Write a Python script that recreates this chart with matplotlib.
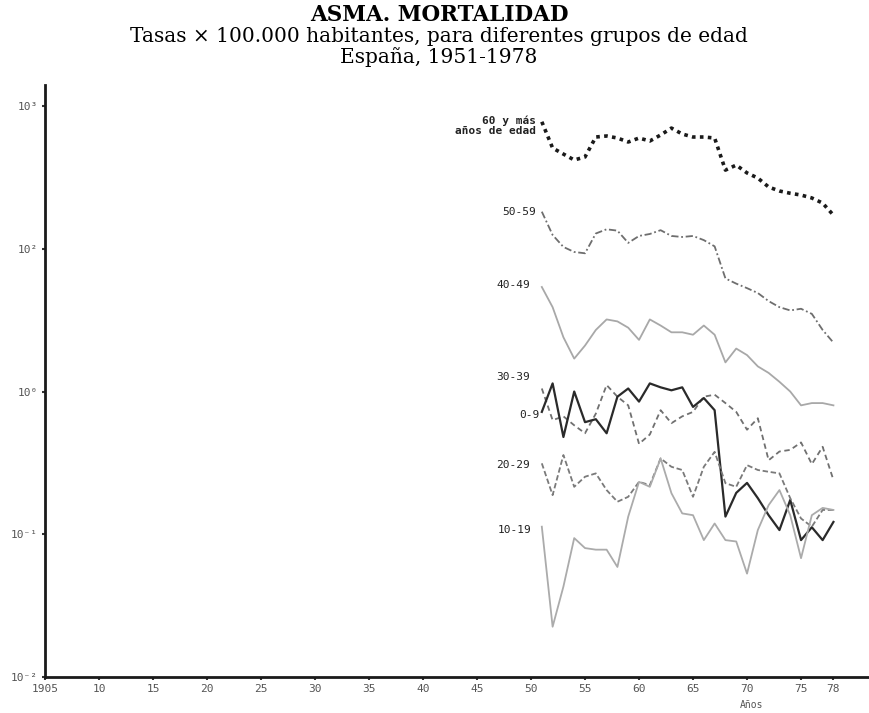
"""
Asma. Mortalidad por grupos de edad, España 1951-1978 (escala logarítmica)
"""
import matplotlib
matplotlib.use("Agg")
import matplotlib.pyplot as plt

years = list(range(1951, 1979))

# tasas x 100.000 habitantes
edad_60_mas = [776, 508, 461, 419, 440, 607, 617, 597, 560, 597, 569, 627, 701, 637,
               607, 607, 597, 356, 386, 340, 313, 271, 254, 245, 238, 227, 209, 172]
edad_50_59 = [182, 125, 103, 95, 93, 128, 137, 134, 110, 123, 127, 135, 123, 121,
              123, 115, 104, 62, 57, 53, 49, 43, 39, 37, 38, 35, 27, 22]
edad_40_49 = [54, 39, 24, 17, 21, 27, 32, 31, 28, 23, 32, 29, 26, 26,
              25, 29, 25, 16, 20, 18, 15, 13.5, 11.7, 10, 8.0, 8.3, 8.3, 8.0]
edad_30_39 = [10.5, 6.3, 6.7, 5.8, 5.1, 7.0, 11.1, 9.2, 8.0, 4.3, 5.0, 7.4, 6.0, 6.7,
              7.2, 9.2, 9.5, 8.3, 7.2, 5.4, 6.5, 3.3, 3.8, 3.9, 4.4, 3.1, 4.1, 2.4]
edad_0_9 = [7.2, 11.4, 4.8, 10.0, 6.1, 6.4, 5.1, 9.2, 10.5, 8.5, 11.4, 10.7, 10.2, 10.7,
            7.8, 9.0, 7.4, 1.33, 1.95, 2.29, 1.79, 1.36, 1.07, 1.74, 0.91, 1.12, 0.91, 1.22]
edad_20_29 = [3.14, 1.88, 3.59, 2.15, 2.53, 2.67, 2.04, 1.69, 1.83, 2.33, 2.21, 3.40, 2.97, 2.82,
              1.83, 2.97, 3.78, 2.28, 2.15, 3.05, 2.82, 2.74, 2.67, 1.79, 1.29, 1.13, 1.48, 1.48]
edad_10_19 = [1.13, 0.225, 0.43, 0.94, 0.80, 0.78, 0.78, 0.59, 1.33, 2.33, 2.15, 3.40, 1.94, 1.40,
              1.36, 0.91, 1.19, 0.91, 0.89, 0.53, 1.07, 1.60, 2.04, 1.36, 0.68, 1.36, 1.53, 1.48]

x_ticks = [1905, 1910, 1915, 1920, 1925, 1930, 1935, 1940, 1945, 1950, 1955, 1960, 1965, 1970, 1975, 1978]
x_labels = ['1905', '10', '15', '20', '25', '30', '35', '40', '45', '50', '55', '60', '65', '70', '75', '78']
y_ticks = [1e3, 1e2, 1e1, 1e0, 1e-1]
y_labels = ['10³', '10²', '10⁰', '10⁻¹', '10⁻²']

mono = ['DejaVu Sans Mono']
serif = ['DejaVu Serif']

fig = plt.figure(figsize=(8.7, 7.13), dpi=100)
ax = fig.add_axes([0.0517, 0.0505, 0.946, 0.830])

# (serie, etiqueta, color, estilo, grosor, desplazamiento etiqueta en px)
series = [
    (edad_60_mas, '60 y más\naños de edad', '#1a1a1a', (0, (1, 1.2)), 2.6, (-6, -4), 'bold'),
    (edad_50_59, '50-59', '#6e6e6e', (0, (4, 1.5, 1, 1.5)), 1.3, (-6, 0), 'normal'),
    (edad_40_49, '40-49', '#a8a8a8', '-', 1.3, (-12, 2), 'normal'),
    (edad_30_39, '30-39', '#707070', (0, (3, 2)), 1.3, (-12, 12), 'normal'),
    (edad_0_9, '0-9', '#2a2a2a', '-', 1.6, (-2, -3), 'normal'),
    (edad_20_29, '20-29', '#7a7a7a', (0, (3, 1.5)), 1.3, (-12, -2), 'normal'),
    (edad_10_19, '10-19', '#ababab', '-', 1.3, (-10, -3), 'normal'),
]

for values, label, col, ls, lw, offset, weight in series:
    ax.plot(years, values, color=col, linestyle=ls, linewidth=lw)
    ax.annotate(label, xy=(years[0], values[0]), xytext=offset, textcoords='offset pixels',
                ha='right', va='center', fontsize=8, family=mono, color='#222222',
                fontweight=weight, linespacing=1.1)

ax.set_yscale('log')
ax.set_xlim(1905, 1981.2)
ax.set_ylim(0.1, 1400)
ax.minorticks_off()
ax.set_xticks(x_ticks)
ax.set_xticklabels(x_labels, fontsize=8, family=mono, color='#555555')
ax.set_yticks(y_ticks)
ax.set_yticklabels(y_labels, fontsize=8, family=mono, color='#555555')
ax.tick_params(axis='both', length=2, width=1.5, color='#333333', pad=3)

for side in ['top', 'right']:
    ax.spines[side].set_visible(False)
for side in ['left', 'bottom']:
    ax.spines[side].set_linewidth(2)
    ax.spines[side].set_color('#1a1a1a')

fig.text(752 / 870, 1 - 705 / 713, 'Años', fontsize=7, family=mono, color='#555555',
         ha='center', va='center')

# títulos
fig.text(439 / 870, 1 - 15 / 713, 'ASMA. MORTALIDAD', fontsize=15.5, fontweight='bold',
         family=serif, ha='center', va='center')
fig.text(439 / 870, 1 - 37 / 713, 'Tasas × 100.000 habitantes, para diferentes grupos de edad',
         fontsize=14.5, family=serif, ha='center', va='center')
fig.text(439 / 870, 1 - 57 / 713, 'España, 1951-1978', fontsize=14.5, family=serif,
         ha='center', va='center')

plt.savefig('out.png', dpi=100)
